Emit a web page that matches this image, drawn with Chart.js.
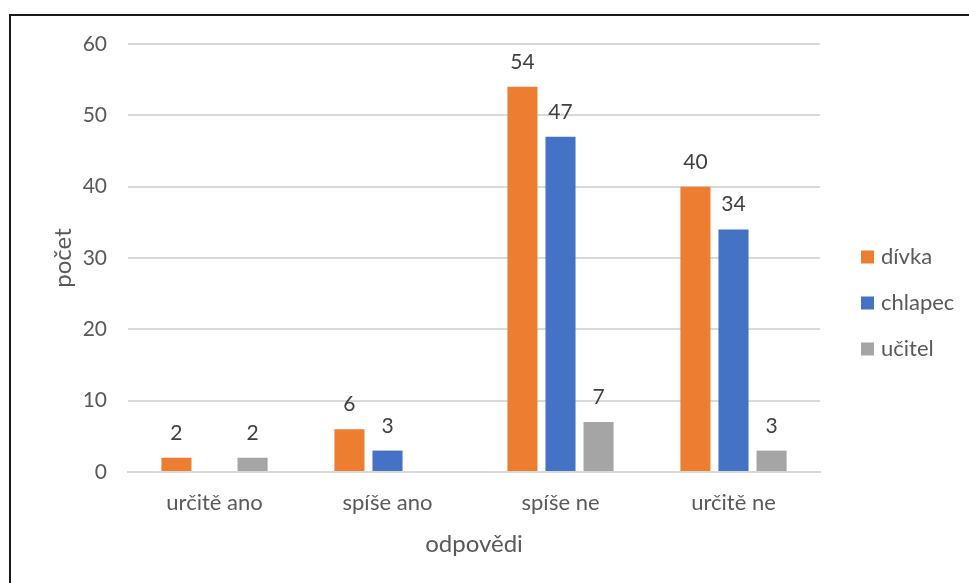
<!DOCTYPE html>
<html lang="cs">
<head>
<meta charset="utf-8">
<title>Odpovědi podle skupin</title>
<script src="https://cdn.jsdelivr.net/npm/chart.js@4.4.1/dist/chart.umd.min.js"></script>
<style>
  html, body { margin: 0; padding: 0; background: #fff; overflow: hidden; }
  #wrap { position: relative; width: 969px; height: 583px; }
  #frame { position: absolute; left: 9px; top: 14px; width: 1000px; height: 700px;
           border: 2px solid #1a1a1a; box-sizing: border-box; pointer-events: none; }
  canvas { position: absolute; left: 0; top: 0; }
</style>
</head>
<body>
<div id="wrap">
  <canvas id="chart" width="969" height="583"></canvas>
  <div id="frame"></div>
</div>
<script>
// Kategorie odpovědí a počty v jednotlivých skupinách
const categories = ['určitě ano', 'spíše ano', 'spíše ne', 'určitě ne'];
const divka   = [2, 6, 54, 40];
const chlapec = [null, 3, 47, 34];
const ucitel  = [2, null, 7, 3];
const seriesNames = ['dívka', 'chlapec', 'učitel'];
const yTicks = [0, 10, 20, 30, 40, 50, 60];

const colors = ['#ED7D31', '#4472C4', '#A5A5A5'];
const FONT = 'Lato, "Open Sans", sans-serif';
const TEXT = '#595959';

// Hodnoty nad sloupci
const valueLabels = {
  id: 'valueLabels',
  afterDatasetsDraw(chart) {
    const ctx = chart.ctx;
    ctx.save();
    ctx.font = '21px ' + FONT;
    ctx.fillStyle = '#404040';
    ctx.textAlign = 'center';
    ctx.textBaseline = 'alphabetic';
    chart.data.datasets.forEach((ds, i) => {
      const meta = chart.getDatasetMeta(i);
      meta.data.forEach((bar, j) => {
        const v = ds.data[j];
        if (v === null || v === undefined) return;
        ctx.fillText(String(v), bar.x, bar.y - 18);
      });
    });
    ctx.restore();
  }
};

// Legenda vpravo
const sideLegend = {
  id: 'sideLegend',
  afterDraw(chart) {
    const ctx = chart.ctx;
    ctx.save();
    ctx.font = '22px ' + FONT;
    ctx.textBaseline = 'middle';
    ctx.textAlign = 'left';
    chart.data.datasets.forEach((ds, i) => {
      const cy = 257 + i * 46;
      ctx.fillStyle = ds.backgroundColor;
      ctx.fillRect(861, cy - 6.5, 13, 13);
      ctx.fillStyle = TEXT;
      ctx.fillText(ds.label, 881, cy);
    });
    ctx.restore();
  }
};

new Chart(document.getElementById('chart'), {
  type: 'bar',
  data: {
    labels: categories,
    datasets: [
      { label: seriesNames[0], data: divka,   backgroundColor: colors[0] },
      { label: seriesNames[1], data: chlapec, backgroundColor: colors[1] },
      { label: seriesNames[2], data: ucitel,  backgroundColor: colors[2] }
    ]
  },
  options: {
    responsive: false,
    animation: false,
    devicePixelRatio: 1,
    layout: { padding: { top: 44, right: 149, left: 0, bottom: 0 } },
    datasets: { bar: { categoryPercentage: 0.66, barPercentage: 0.79, skipNull: false } },
    plugins: { legend: { display: false }, tooltip: { enabled: false } },
    scales: {
      x: {
        grid: { display: false, drawTicks: false },
        border: { display: true, color: '#d9d9d9', width: 2 },
        ticks: { color: TEXT, font: { family: FONT, size: 22 }, padding: 18 },
        title: { display: true, text: 'odpovědi', color: TEXT,
                 font: { family: FONT, size: 24 }, padding: { top: 24, bottom: 24 } },
        afterFit(scale) { scale.height = 111; }
      },
      y: {
        min: 0, max: 60,
        afterBuildTicks(scale) { scale.ticks = yTicks.map(v => ({ value: v })); },
        grid: { color: '#d9d9d9', lineWidth: 2, drawTicks: false },
        border: { display: false },
        ticks: { color: TEXT, font: { family: FONT, size: 21 }, padding: 21 },
        title: { display: true, text: 'počet', color: TEXT,
                 font: { family: FONT, size: 24 }, padding: { top: 49, bottom: 0 } },
        afterFit(scale) { scale.width = 128; }
      }
    }
  },
  plugins: [valueLabels, sideLegend]
});
</script>
</body>
</html>
